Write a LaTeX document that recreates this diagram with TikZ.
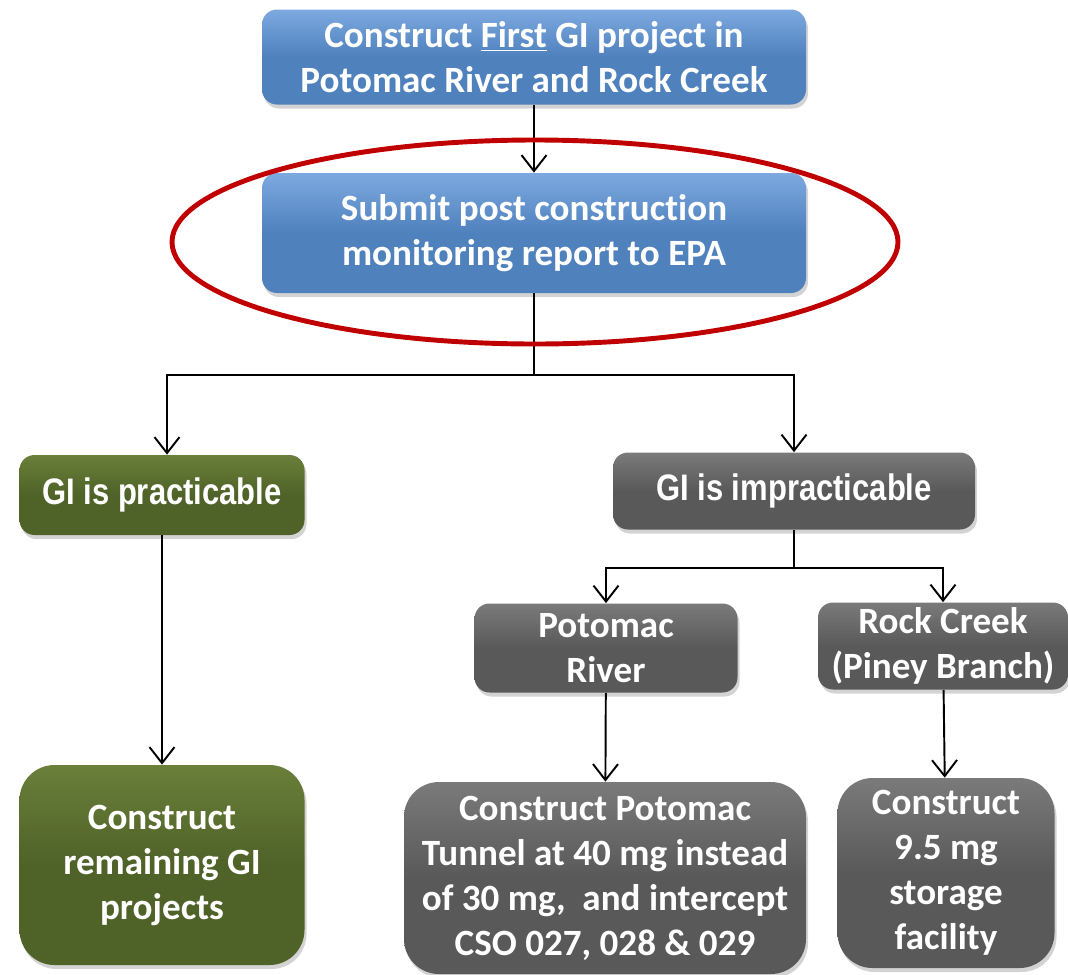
\documentclass[tikz,border=0pt]{standalone}
\usepackage{fontspec}
\setmainfont[Ligatures=NoCommon]{Carlito}
\newfontfamily\armfont[FakeStretch=0.84]{Liberation Sans}
\usepackage{xcolor}
\usetikzlibrary{arrows.meta,positioning,calc,shapes.geometric,shadows}
\definecolor{boxblue}{HTML}{4F81BD}
\definecolor{boxbluetop}{HTML}{7DA9E0}
\definecolor{boxgreen}{HTML}{4F6228}
\definecolor{boxgreentop}{HTML}{6A7F3A}
\definecolor{boxgray}{HTML}{595959}
\definecolor{boxgraytop}{HTML}{7A7A7A}
\definecolor{ringred}{HTML}{C00000}

\begin{document}
\begin{tikzpicture}[
  every node/.style={font=\bfseries\fontsize{21.1}{25.6}\selectfont,text=white},
  stepbox/.style={rounded corners=0.3cm,align=center,inner sep=0pt,
    drop shadow={opacity=0.35,shadow xshift=0.04cm,shadow yshift=-0.08cm}},
  bluebox/.style={stepbox,top color=boxbluetop,bottom color=boxblue,middle color=boxblue},
  greenbox/.style={stepbox,top color=boxgreentop,bottom color=boxgreen,middle color=boxgreen},
  graybox/.style={stepbox,top color=boxgraytop,bottom color=boxgray,middle color=boxgray},
  bigbox/.style={rounded corners=0.7cm},
  armtext/.style={font=\armfont\bfseries\fontsize{21}{24}\selectfont},
  arr/.style={-{Straight Barb[length=0.32cm,width=0.5cm]},line width=1.1pt},
  link/.style={line width=1.1pt}
]
\useasboundingbox (0,0) rectangle (21.36,-19.48);

% top of the chain
\node[bluebox,minimum width=10.88cm,minimum height=1.9cm] (first) at (10.68,-1.14)
  {Construct \underline{First} GI project in\\Potomac River and Rock Creek};
\node[bluebox,minimum width=10.88cm,minimum height=2.4cm] (submit) at (10.68,-4.66)
  {Submit post construction\\monitoring report to EPA};

% the two outcomes
\node[greenbox,armtext,minimum width=5.7cm,minimum height=1.6cm] (prac) at (3.24,-9.9)
  {GI is practicable};
\node[graybox,armtext,minimum width=7.24cm,minimum height=1.54cm] (imprac) at (15.88,-9.82)
  {GI is impracticable};

% watersheds
\node[graybox,minimum width=5.26cm,minimum height=1.78cm] (potomac) at (12.12,-12.96)
  {Potomac\\River};
\node[graybox,minimum width=5.0cm,minimum height=1.74cm] (rock) at (18.86,-12.92)
  {Rock Creek\\(Piney Branch)};

% actions
\node[greenbox,bigbox,minimum width=5.7cm,minimum height=4.0cm] (remain) at (3.24,-17.3)
  {Construct\\remaining GI\\projects};
\node[graybox,bigbox,minimum width=8.04cm,minimum height=3.84cm] (tunnel) at (12.1,-17.56)
  {Construct Potomac\\Tunnel at 40 mg instead\\of 30 mg,\ \ and intercept\\CSO 027, 028 \& 029};
\node[graybox,bigbox,minimum width=4.34cm,minimum height=3.8cm] (storage) at (18.92,-17.46)
  {Construct\\9.5 mg\\storage\\facility};

\coordinate (fork) at (10.68,-7.5);
\coordinate (forkb) at (15.88,-11.36);

\draw[arr] (first) -- (submit);
\draw[link] (submit) -- (fork);
\draw[arr] (fork) -| ($(prac.north)+(0.1,0)$);
\draw[arr] (fork) -| (imprac);
\draw[link] (imprac) -- (forkb);
\draw[arr] (forkb) -| (potomac);
\draw[arr] (forkb) -| (rock);
\draw[arr] (prac) -- (remain);
\draw[arr] (potomac) -- (tunnel);
\draw[arr] (rock) -- (storage);

\node[draw=ringred,line width=2.8pt,ellipse,minimum width=14.52cm,minimum height=4.08cm] (ring) at (10.70,-4.84) {};
\end{tikzpicture}
\end{document}
